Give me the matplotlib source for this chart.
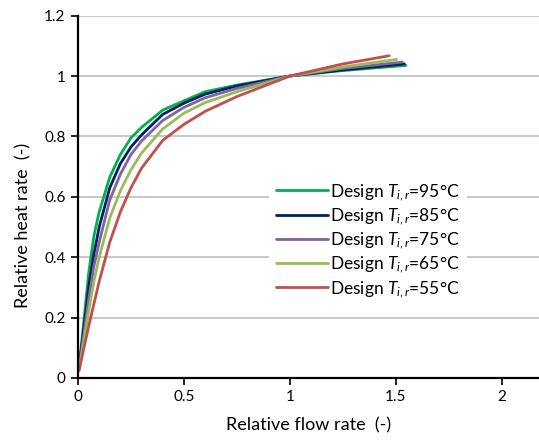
import numpy as np
import matplotlib
matplotlib.use("Agg")
import matplotlib.pyplot as plt
from matplotlib.ticker import FixedLocator, FixedFormatter

plt.rcParams['font.family'] = ['Lato', 'DejaVu Sans']
plt.rcParams['mathtext.fontset'] = 'custom'
plt.rcParams['mathtext.rm'] = 'Lato'
plt.rcParams['mathtext.it'] = 'Lato:italic'

# relative flow rate points (last point differs per series)
flow = [0.005, 0.025, 0.05, 0.075, 0.1, 0.15, 0.2, 0.25, 0.3, 0.4, 0.5, 0.6, 0.75, 1.0, 1.25]

temps = ["95", "85", "75", "65", "55"]
end_flow = [1.547, 1.54, 1.53, 1.503, 1.468]

heat_95 = [0.035, 0.17, 0.345, 0.47, 0.55, 0.665, 0.74, 0.795, 0.83, 0.887, 0.918, 0.948, 0.970, 1.0, 1.018, 1.035]
heat_85 = [0.033, 0.15, 0.30, 0.41, 0.50, 0.63, 0.71, 0.765, 0.805, 0.873, 0.91, 0.94, 0.967, 1.0, 1.02, 1.04]
heat_75 = [0.03, 0.13, 0.26, 0.37, 0.45, 0.59, 0.675, 0.74, 0.785, 0.853, 0.896, 0.928, 0.959, 1.0, 1.025, 1.046]
heat_65 = [0.028, 0.11, 0.22, 0.32, 0.40, 0.53, 0.62, 0.69, 0.745, 0.825, 0.877, 0.912, 0.948, 1.0, 1.03, 1.055]
heat_55 = [0.024, 0.09, 0.17, 0.245, 0.32, 0.45, 0.55, 0.63, 0.695, 0.787, 0.84, 0.883, 0.932, 1.0, 1.04, 1.067]

heats = [heat_95, heat_85, heat_75, heat_65, heat_55]
colors = ["#00B050", "#002060", "#8064A2", "#9BBB59", "#C0504D"]

fig = plt.figure(figsize=(5.39, 4.41), dpi=100)
ax = fig.add_axes([0.1447, 0.1429, 0.8553, 0.8217])

for t, xe, h, c in zip(temps, end_flow, heats, colors):
    ax.plot(flow + [xe], h, color=c, lw=2.0,
            label=r"Design $T_{i,r}$=" + t + "°C", solid_capstyle='round')

ax.set_xlim(0, 2.175)
ax.set_ylim(0, 1.2)

ax.xaxis.set_major_locator(FixedLocator([0, 0.5, 1, 1.5, 2]))
ax.xaxis.set_major_formatter(FixedFormatter(['0', '0.5', '1', '1.5', '2']))
ax.yaxis.set_major_locator(FixedLocator([0, 0.2, 0.4, 0.6, 0.8, 1.0, 1.2]))
ax.yaxis.set_major_formatter(FixedFormatter(['0', '0.2', '0.4', '0.6', '0.8', '1', '1.2']))

ax.grid(axis='y', color='#BFBFBF', lw=1.2)
ax.set_axisbelow(True)
for s in ['top', 'right']:
    ax.spines[s].set_visible(False)
for s in ['left', 'bottom']:
    ax.spines[s].set_linewidth(1.6)
    ax.spines[s].set_color('black')
ax.tick_params(axis='both', direction='out', length=5, width=1.2, labelsize=11, pad=4)

ax.set_xlabel("Relative flow rate  (-)", fontsize=13)
ax.xaxis.set_label_coords(0.5, -0.108)
ax.set_ylabel("Relative heat rate  (-)", fontsize=13)
ax.yaxis.set_label_coords(-0.10, 0.42)

leg = ax.legend(loc='upper left', bbox_to_anchor=(0.415, 0.56), fontsize=12.5,
                frameon=True, facecolor='white', edgecolor='none', framealpha=1,
                handlelength=3.0, handletextpad=0.1, labelspacing=0.2,
                borderpad=0.4, borderaxespad=0)
leg.get_frame().set_linewidth(0)

fig.savefig("out.png", dpi=100)
